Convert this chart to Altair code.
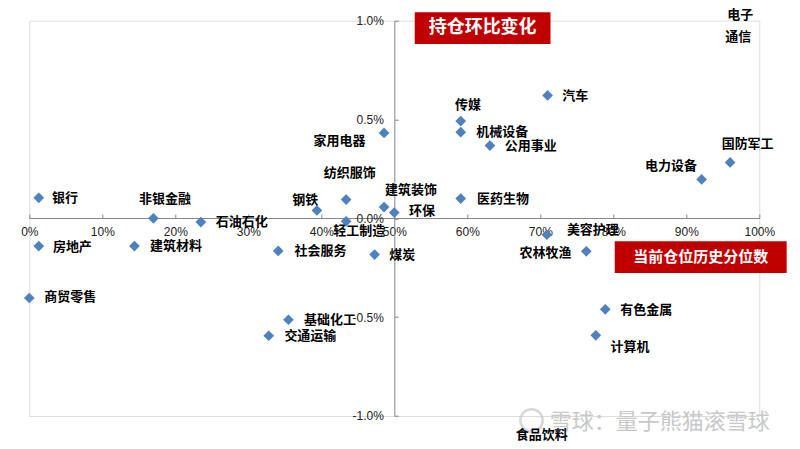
import altair as alt
import pandas as pd

# ---- data (percent units) ----
names = ["银行", "非银金融", "石油石化", "钢铁", "纺织服饰", "轻工制造", "家用电器", "建筑装饰", "环保",
         "汽车", "传媒", "机械设备", "公用事业", "医药生物", "电力设备", "国防军工",
         "房地产", "建筑材料", "社会服务", "煤炭", "商贸零售", "基础化工", "交通运输",
         "美容护理", "农林牧渔", "有色金属", "计算机"]
position_pct = [1.3, 17.0, 23.5, 39.4, 43.4, 43.4, 48.6, 48.6, 50.0,
                71.0, 59.1, 59.1, 63.1, 59.1, 92.1, 96.0,
                1.3, 14.4, 34.1, 47.3, 0.0, 35.5, 32.8,
                70.9, 76.3, 78.9, 77.6]
change_pct = [0.104, 0.0, -0.019, 0.040, 0.095, -0.015, 0.432, 0.057, 0.029,
              0.622, 0.492, 0.436, 0.368, 0.100, 0.197, 0.283,
              -0.140, -0.140, -0.165, -0.183, -0.403, -0.513, -0.594,
              -0.083, -0.167, -0.460, -0.592]
# label anchor (centre) in the same data units
label_x_pct = [4.9, 18.6, 29.1, 37.8, 43.9, 45.2, 42.5, 52.3, 53.8,
               74.8, 60.1, 64.8, 68.7, 64.9, 87.9, 98.4,
               5.9, 20.1, 39.9, 51.1, 5.6, 41.2, 38.5,
               77.2, 70.7, 84.5, 82.3]
label_y_pct = [0.104, 0.096, -0.019, 0.091, 0.229, -0.064, 0.391, 0.145, 0.037,
               0.619, 0.572, 0.435, 0.364, 0.096, 0.265, 0.378,
               -0.145, -0.142, -0.165, -0.187, -0.400, -0.516, -0.593,
               -0.057, -0.176, -0.464, -0.651]

# sectors whose points fall outside the plotted range: labels only
off_names = ["电子", "通信", "食品饮料"]
off_label_x_pct = [97.4, 97.1, 70.2]
off_label_y_pct = [1.027, 0.916, -1.098]

# annotation boxes
box_texts = ["持仓环比变化", "当前仓位历史分位数"]
box_x1_pct = [52.8, 80.2]
box_x2_pct = [71.4, 103.75]
box_y1_pct = [1.043, -0.116]
box_y2_pct = [0.882, -0.277]
box_font = [18, 15]

watermark = ["雪球：量子熊猫滚雪球"]
wm_x_pct = [71.3]
wm_y_pct = [-1.030]
logo_x_pct = [68.8]
logo_y_pct = [-1.022]

x_ticks = [i / 10 for i in range(11)]
y_ticks = [-0.01, -0.005, 0.0, 0.005, 0.01]

# ---- tables ----
pts = pd.DataFrame({
    "name": names,
    "x": [v / 100 for v in position_pct],
    "y": [v / 100 for v in change_pct],
})
labs = pd.DataFrame({
    "name": names + off_names,
    "x": [v / 100 for v in label_x_pct + off_label_x_pct],
    "y": [v / 100 for v in label_y_pct + off_label_y_pct],
})
boxes = pd.DataFrame({
    "text": box_texts,
    "x": [v / 100 for v in box_x1_pct],
    "x2": [v / 100 for v in box_x2_pct],
    "y": [v / 100 for v in box_y1_pct],
    "y2": [v / 100 for v in box_y2_pct],
    "xc": [(a + b) / 200 for a, b in zip(box_x1_pct, box_x2_pct)],
    "yc": [(a + b) / 200 for a, b in zip(box_y1_pct, box_y2_pct)],
    "fs": box_font,
})
wm = pd.DataFrame({"text": watermark, "x": [v / 100 for v in wm_x_pct], "y": [v / 100 for v in wm_y_pct]})
logo = pd.DataFrame({"x": [v / 100 for v in logo_x_pct], "y": [v / 100 for v in logo_y_pct]})

W, H = 730, 395.3
ZERO_FROM_TOP = 197.3
AX = "#868686"

xscale = alt.Scale(domain=[0, 1], nice=False, zero=False)
yscale = alt.Scale(domain=[-0.01, 0.01], nice=False, zero=False)

xaxis = alt.Axis(orient="top", offset=-ZERO_FROM_TOP, values=x_ticks, format=".0%",
                 grid=False, domainColor=AX, tickColor=AX, tickSize=4,
                 labelBaseline="top", labelPadding=-13, labelFont="Liberation Sans",
                 labelFontSize=12, labelColor="#222", labelFlush=False, labelOverlap=False,
                 title=None)
yaxis = alt.Axis(orient="right", offset=-(W / 2), values=y_ticks,
                 labelExpr="replace(format(datum.value, '.1%'), '\u2212', '-')",
                 grid=False, domainColor=AX, tickColor=AX, tickSize=4,
                 labelAlign="right", labelPadding=-15, labelFont="Liberation Sans",
                 labelFontSize=12, labelColor="#222", labelOverlap=False, title=None)


def X(field="x"):
    return alt.X(f"{field}:Q", scale=xscale, axis=xaxis)


def Y(field="y"):
    return alt.Y(f"{field}:Q", scale=yscale, axis=yaxis)


points = alt.Chart(pts).mark_point(shape="diamond", filled=True, size=115,
                                   color="#4F81BD", opacity=1).encode(x=X(), y=Y())

labels = alt.Chart(labs).mark_text(font="Noto Sans CJK SC", fontWeight="bold", fontSize=13,
                                   color="#000", align="center", baseline="middle").encode(
    x=X(), y=Y(), text="name:N")

rects = alt.Chart(boxes).mark_rect(color="#C00000").encode(
    x=X(), x2="x2:Q", y=Y(), y2="y2:Q")

box_text = alt.Chart(boxes).mark_text(font="Noto Sans CJK SC", fontWeight="bold", color="white",
                                      align="center", baseline="middle").encode(
    x=X("xc"), y=Y("yc"), text="text:N", size=alt.Size("fs:Q", scale=None, legend=None))

wm_text = alt.Chart(wm).mark_text(font="Noto Sans CJK SC", fontSize=22, color="#c8c8c8",
                                  align="left", baseline="middle").encode(
    x=X(), y=Y(), text="text:N")

wm_logo = alt.Chart(logo).mark_point(shape="circle", size=500, stroke="#c8c8c8",
                                     strokeWidth=2.5, filled=False).encode(x=X(), y=Y())

chart = alt.layer(wm_logo, wm_text, rects, box_text, points, labels).properties(
    width=W, height=H,
    autosize=alt.AutoSizeParams(type="none"),
    padding={"left": 21.3, "top": 12.7, "right": 30, "bottom": 31},
).configure_view(stroke=None).configure(background="white")

chart.save("out.html", embed_options={"renderer": "svg", "actions": False})
